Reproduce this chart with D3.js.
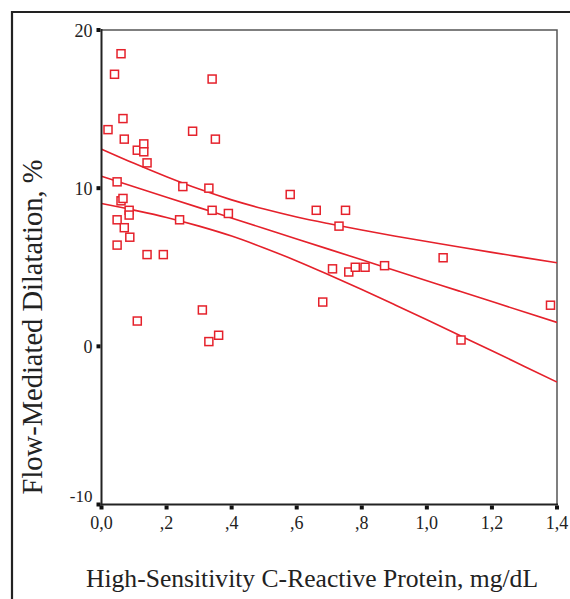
<!DOCTYPE html>
<html><head><meta charset="utf-8">
<script src="https://cdn.jsdelivr.net/npm/d3@7"></script>
<style>html,body{margin:0;padding:0;background:#fff;}svg{display:block;}</style>
</head><body>
<svg id="c" width="570" height="599"></svg>
<script>
// CRP (mg/dL) and FMD (%) readings
const crp = [0.02,0.04,0.06,0.066,0.07,0.11,0.13,0.13,0.14,0.28,0.34,0.35,0.048,0.06,0.066,0.085,0.085,0.048,0.07,0.087,0.048,0.14,0.19,0.25,0.24,0.33,0.34,0.39,0.31,0.11,0.33,0.36,0.58,0.66,0.75,0.73,0.71,0.76,0.78,0.81,0.87,0.68,1.05,1.105,1.38];
const fmd = [13.7,17.2,18.5,14.4,13.1,12.4,12.8,12.3,11.6,13.6,16.9,13.1,10.4,9.2,9.35,8.6,8.3,8.0,7.5,6.9,6.4,5.8,5.8,10.1,8.0,10.0,8.6,8.4,2.3,1.6,0.3,0.7,9.6,8.6,8.6,7.6,4.9,4.7,5.0,5.0,5.1,2.8,5.6,0.4,2.6];
// fit line and 95% band
const bandX = [0,0.1,0.2,0.3,0.4,0.5,0.6,0.7,0.8,0.9,1.0,1.1,1.2,1.3,1.4];
const fitY  = [10.75,10.09,9.43,8.77,8.11,7.45,6.79,6.13,5.47,4.81,4.15,3.49,2.83,2.17,1.51];
const upperY= [12.47,11.57,10.72,9.94,9.26,8.68,8.18,7.75,7.35,6.98,6.63,6.28,5.94,5.61,5.28];
const lowerY= [9.03,8.61,8.15,7.60,6.97,6.22,5.40,4.51,3.59,2.64,1.68,0.70,-0.28,-1.27,-2.26];
const xTicks = [0,0.2,0.4,0.6,0.8,1.0,1.2,1.4];
const xTickLabels = ["0,0",",2",",4",",6",",8","1,0","1,2","1,4"];
const yTicks = [-10,0,10,20];

const svg = d3.select("#c");
const red = "#e5212b";
const L = 101.5, R = 557, T = 30, B = 504.5;
const x = d3.scaleLinear().domain([0,1.4]).range([L,R]);
const y = d3.scaleLinear().domain([-10,20]).range([B,T]);
const font = "'Liberation Serif','Times New Roman',serif";

// outer frame
svg.append("path").attr("d","M12,599 V12 H570").attr("fill","none").attr("stroke","#222").attr("stroke-width",2.2);

// plot frame
svg.append("path").attr("d",`M${L},${T} H${R} V${B}`).attr("fill","none").attr("stroke","#555").attr("stroke-width",1.5);

// clip
svg.append("clipPath").attr("id","pc").append("rect").attr("x",L).attr("y",T).attr("width",R-L).attr("height",B-T);

const g = svg.append("g").attr("clip-path","url(#pc)");
const line = d3.line().x((d,i)=>x(bandX[i])).y(d=>y(d)).curve(d3.curveMonotoneX);
[upperY, fitY, lowerY].forEach(arr=>{
  g.append("path").attr("d",line(arr)).attr("fill","none").attr("stroke",red).attr("stroke-width",1.6);
});

// points
svg.append("g").selectAll("rect").data(crp).join("rect")
  .attr("x",(d)=>x(d)-4).attr("y",(d,i)=>y(fmd[i])-4)
  .attr("width",8).attr("height",8)
  .attr("fill","#fff").attr("stroke",red).attr("stroke-width",1.5);

// axes lines
svg.append("line").attr("x1",L).attr("x2",L).attr("y1",T-1).attr("y2",B+1).attr("stroke","#222").attr("stroke-width",2);
svg.append("line").attr("x1",L-1).attr("x2",R+1).attr("y1",B).attr("y2",B).attr("stroke","#222").attr("stroke-width",2);

// y ticks
svg.append("g").selectAll("rect").data(yTicks).join("rect")
  .attr("x",L-5).attr("y",d=>y(d)-2).attr("width",4).attr("height",4).attr("fill","#111");
svg.append("g").selectAll("text").data(yTicks).join("text")
  .attr("x",L-9).attr("y",d=>d===-10? y(d)-3 : y(d)+6.5)
  .attr("text-anchor","end").attr("font-family",font)
  .attr("font-size",d=>d===-10?17:18).attr("fill","#222")
  .text(d=>d);

// x ticks
svg.append("g").selectAll("rect").data(xTicks).join("rect")
  .attr("x",d=>x(d)-2).attr("y",B+1).attr("width",4).attr("height",4).attr("fill","#111");
svg.append("g").selectAll("text").data(xTicks).join("text")
  .attr("x",d=>x(d)).attr("y",B+24)
  .attr("text-anchor","middle").attr("font-family",font).attr("font-size",18).attr("fill","#222")
  .text((d,i)=>xTickLabels[i]);

// titles
svg.append("text").attr("x",312).attr("y",587).attr("text-anchor","middle")
  .attr("font-family",font).attr("font-size",25.6).attr("fill","#222")
  .text("High-Sensitivity C-Reactive Protein, mg/dL");
svg.append("text").attr("transform","translate(42,327) rotate(-90)").attr("text-anchor","middle")
  .attr("font-family",font).attr("font-size",28.5).attr("fill","#222")
  .text("Flow-Mediated Dilatation, %");
</script>
</body></html>
